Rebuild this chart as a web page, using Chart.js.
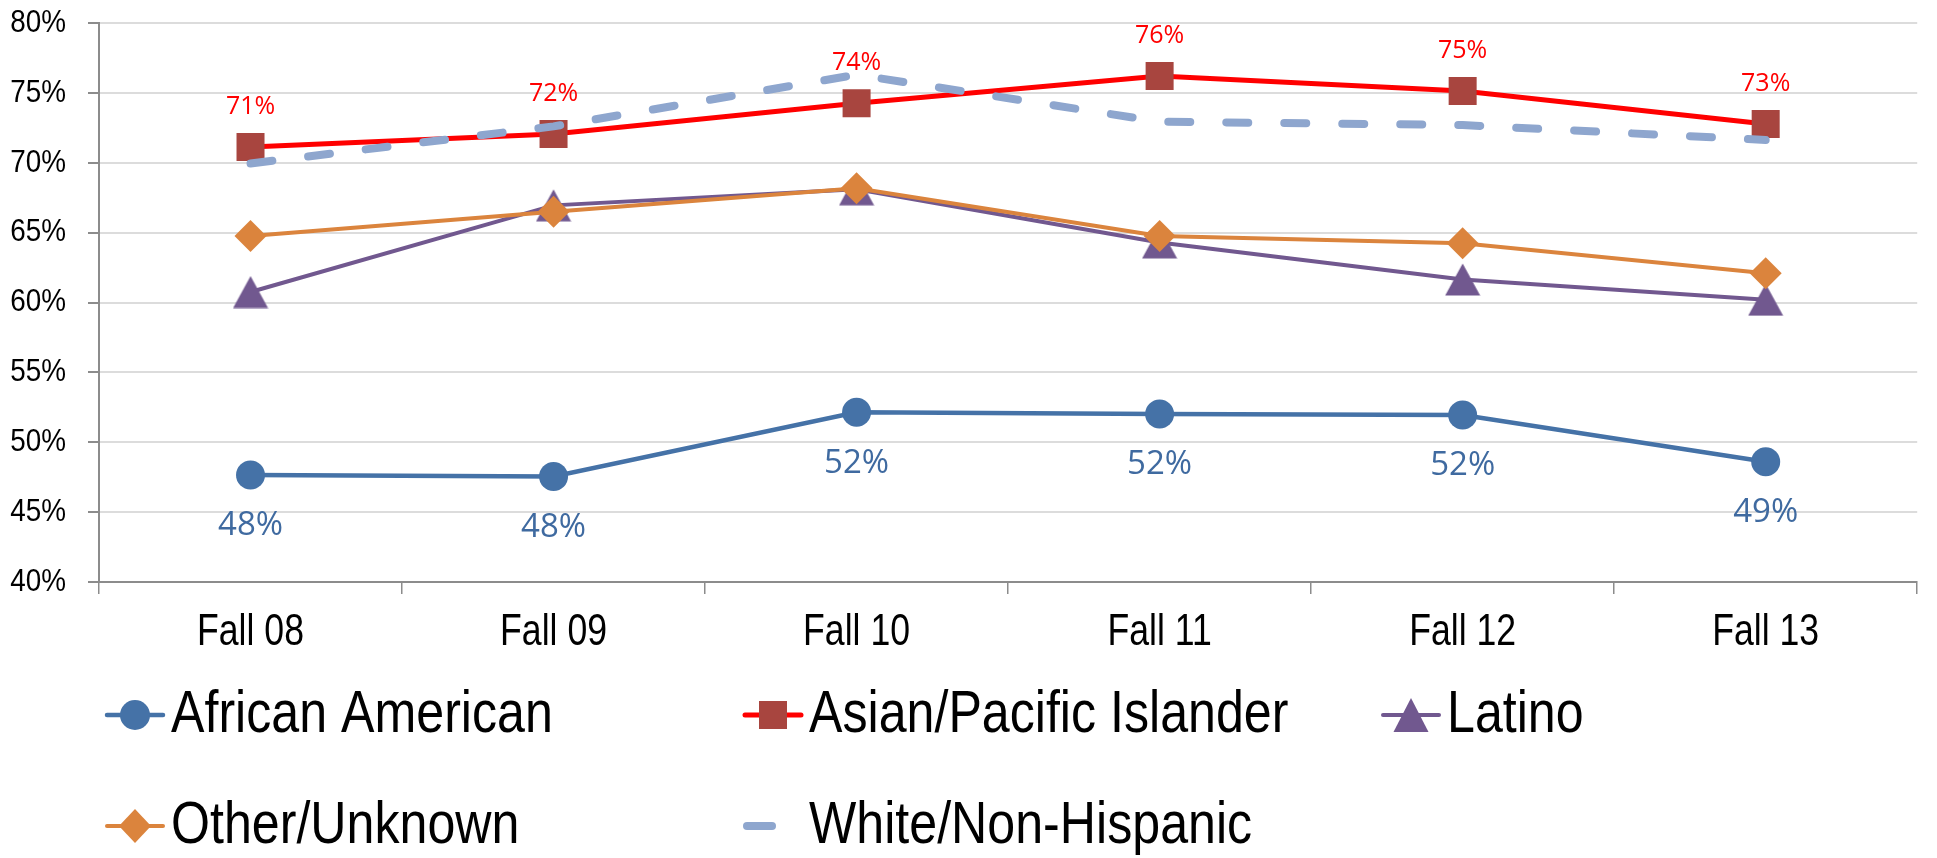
<!DOCTYPE html>
<html><head><meta charset="utf-8">
<script src="https://cdn.jsdelivr.net/npm/chart.js@4/dist/chart.umd.min.js"></script>
<style>html,body{margin:0;padding:0;background:#fff;overflow:hidden}canvas{display:block}</style>
</head><body>
<canvas id="c" width="1937" height="858"></canvas>
<script>
// ---- data ----
const categories = ['Fall 08', 'Fall 09', 'Fall 10', 'Fall 11', 'Fall 12', 'Fall 13'];
const africanAmerican = [47.66, 47.55, 52.14, 52.02, 51.95, 48.61];
const asianPacificIslander = [71.13, 72.05, 74.25, 76.2, 75.14, 72.77];
const latino = [60.75, 66.95, 68.1, 64.3, 61.65, 60.2];
const otherUnknown = [64.76, 66.5, 68.17, 64.76, 64.24, 62.09];
const whiteNonHispanic = [69.95, 72.6, 76.3, 72.94, 72.7, 71.63];
const seriesNames = ['African American', 'Asian/Pacific Islander', 'Latino', 'Other/Unknown', 'White/Non-Hispanic'];
const yMin = 40, yMax = 80, yStep = 5;

// ---- font handling: narrow sans (Arial Narrow look) ----
function hasFont(name) {
  const c = document.createElement('canvas').getContext('2d');
  c.font = '40px monospace';
  const a = c.measureText('Fall 08 African American').width;
  c.font = '40px "' + name + '", monospace';
  const b = c.measureText('Fall 08 African American').width;
  return Math.abs(a - b) > 0.5;
}
const NARROW = hasFont('Liberation Sans Narrow');
const AX_FAMILY = NARROW ? '"Liberation Sans Narrow", sans-serif' : '"Liberation Sans", Arial, sans-serif';
const SIZE_Y = 32, SIZE_X = 44, SIZE_LEG = 59;
function squeezeFor(font) {
  if (NARROW || font.indexOf('Liberation Sans') < 0) return 1;
  const m = font.match(/(\d+(?:\.\d+)?)px/);
  const s = m ? parseFloat(m[1]) : 0;
  if (s === SIZE_Y) return 0.87;
  if (s === SIZE_X) return 0.81;
  if (s === SIZE_LEG) return 0.85;
  return 0.83;
}

const canvas = document.getElementById('c');
const ctx0 = canvas.getContext('2d');
const origFillText = ctx0.fillText;
ctx0.fillText = function (text, x, y, maxWidth) {
  const sx = squeezeFor(this.font);
  if (sx === 1) {
    return maxWidth === undefined ? origFillText.call(this, text, x, y) : origFillText.call(this, text, x, y, maxWidth);
  }
  this.save();
  this.translate(x, y);
  this.scale(sx, 1);
  origFillText.call(this, text, 0, 0);
  this.restore();
};

const COLORS = {
  aa: '#4572A7', aaLabel: '#3F6AA0',
  api: '#FF0000', apiPoint: '#A8453F',
  lat: '#71588F', oth: '#DB843D', wht: '#8EA6CE'
};

// triangle marker centred on its bounding box (as in the original)
function triangleImage(color) {
  const c = document.createElement('canvas');
  c.width = 36; c.height = 33;
  const g = c.getContext('2d');
  g.fillStyle = color;
  g.beginPath();
  g.moveTo(18, 0.5); g.lineTo(35.5, 32.5); g.lineTo(0.5, 32.5); g.closePath();
  g.fill();
  return c;
}

// ---- value labels plugin ----
const valueLabels = {
  id: 'valueLabels',
  afterDatasetsDraw(chart) {
    const ctx = chart.ctx;
    const specs = [
      { di: 0, color: COLORS.aaLabel, size: 33, dy: 51 },
      { di: 1, color: '#FF0000', size: 25, dy: -40 }
    ];
    specs.forEach(s => {
      const meta = chart.getDatasetMeta(s.di);
      const vals = chart.data.datasets[s.di].data;
      meta.data.forEach((pt, i) => {
        ctx.save();
        ctx.font = s.size + 'px "Open Sans", "Noto Sans", sans-serif';
        ctx.fillStyle = s.color;
        ctx.textAlign = 'center';
        ctx.textBaseline = 'middle';
        ctx.fillText(Math.round(vals[i]) + '%', pt.x, pt.y + s.dy);
        ctx.restore();
      });
    });
  }
};

// ---- custom legend plugin ----
function marker(ctx, style, color, cx, cy) {
  ctx.save();
  ctx.fillStyle = color;
  ctx.beginPath();
  if (style === 'circle') {
    ctx.arc(cx, cy, 15, 0, Math.PI * 2);
  } else if (style === 'rect') {
    ctx.rect(cx - 14, cy - 14, 28, 28);
  } else if (style === 'triangle') {
    ctx.moveTo(cx, cy - 17); ctx.lineTo(cx + 17.5, cy + 17); ctx.lineTo(cx - 17.5, cy + 17); ctx.closePath();
  } else if (style === 'rectRot') {
    ctx.moveTo(cx, cy - 17); ctx.lineTo(cx + 16, cy); ctx.lineTo(cx, cy + 17); ctx.lineTo(cx - 16, cy); ctx.closePath();
  }
  ctx.fill();
  ctx.restore();
}
const legendMarkers = ['circle', 'rect', 'triangle', 'rectRot', null];
const legendPlugin = {
  id: 'gridLegend',
  afterDraw(chart) {
    const ctx = chart.ctx;
    const cols = [105, 743, 1381];
    const rows = [715, 826];
    chart.data.datasets.forEach((ds, i) => {
      const x = cols[i % 3], y = rows[Math.floor(i / 3)];
      ctx.save();
      ctx.lineCap = 'round';
      ctx.strokeStyle = ds.borderColor;
      ctx.lineWidth = ds.borderWidth;
      if (ds.borderDash && ds.borderDash.length) {
        ctx.beginPath(); ctx.moveTo(x + 4, y); ctx.lineTo(x + 29, y); ctx.stroke();
      } else {
        ctx.beginPath(); ctx.moveTo(x + 2, y); ctx.lineTo(x + 58, y); ctx.stroke();
        marker(ctx, legendMarkers[i], ds.pointBackgroundColor, x + 30, y);
      }
      ctx.fillStyle = '#000';
      ctx.font = SIZE_LEG + 'px ' + AX_FAMILY;
      ctx.textAlign = 'left';
      ctx.textBaseline = 'middle';
      ctx.fillText(ds.label, x + 66, y + 1);
      ctx.restore();
    });
  }
};

const datasets = [
  { label: seriesNames[0], data: africanAmerican, borderColor: COLORS.aa, borderWidth: 4.5,
    pointStyle: 'circle', pointRadius: 14.5, pointBackgroundColor: COLORS.aa, pointBorderColor: COLORS.aa, pointBorderWidth: 0, order: 5 },
  { label: seriesNames[1], data: asianPacificIslander, borderColor: COLORS.api, borderWidth: 5,
    pointStyle: 'rect', pointRadius: 19.8, pointBackgroundColor: COLORS.apiPoint, pointBorderColor: COLORS.apiPoint, pointBorderWidth: 0, order: 4 },
  { label: seriesNames[2], data: latino, borderColor: COLORS.lat, borderWidth: 4,
    pointStyle: triangleImage(COLORS.lat), pointRadius: 18, pointBackgroundColor: COLORS.lat, pointBorderColor: COLORS.lat, pointBorderWidth: 0, order: 3 },
  { label: seriesNames[3], data: otherUnknown, borderColor: COLORS.oth, borderWidth: 4,
    pointStyle: 'rectRot', pointRadius: 16, pointBackgroundColor: COLORS.oth, pointBorderColor: COLORS.oth, pointBorderWidth: 0, order: 2 },
  { label: seriesNames[4], data: whiteNonHispanic, borderColor: COLORS.wht, borderWidth: 8,
    borderDash: [22, 36], borderCapStyle: 'round', pointRadius: 0, pointBackgroundColor: COLORS.wht, order: 1 }
];

new Chart(canvas, {
  type: 'line',
  data: { labels: categories, datasets: datasets },
  options: {
    responsive: false,
    animation: false,
    events: [],
    devicePixelRatio: 1,
    layout: { padding: { top: 23, right: 17, left: 0, bottom: 0 } },
    plugins: { legend: { display: false }, tooltip: { enabled: false } },
    elements: { line: { tension: 0 } },
    scales: {
      x: {
        offset: true,
        grid: { display: true, drawOnChartArea: false, drawTicks: true, tickLength: 12, offset: true, tickColor: '#8C8C8C', lineWidth: 1.5 },
        border: { display: true, color: '#8C8C8C', width: 2 },
        ticks: { color: '#000', font: { family: AX_FAMILY, size: SIZE_X }, padding: 12, maxRotation: 0, minRotation: 0, autoSkip: false },
        afterFit(scale) { scale.height = 276; scale.paddingLeft = 0; scale.paddingRight = 0; }
      },
      y: {
        min: yMin, max: yMax,
        grid: { color: '#DCDCDC', lineWidth: 2, tickColor: '#8C8C8C', tickLength: 11, drawTicks: true },
        border: { display: true, color: '#8C8C8C', width: 2 },
        ticks: { stepSize: yStep, color: '#000', font: { family: AX_FAMILY, size: SIZE_Y }, padding: 22,
          callback: v => v + '%' },
        afterFit(scale) { scale.width = 99; scale.paddingTop = 0; scale.paddingBottom = 0; }
      }
    }
  },
  plugins: [valueLabels, legendPlugin]
});
</script>
</body></html>
